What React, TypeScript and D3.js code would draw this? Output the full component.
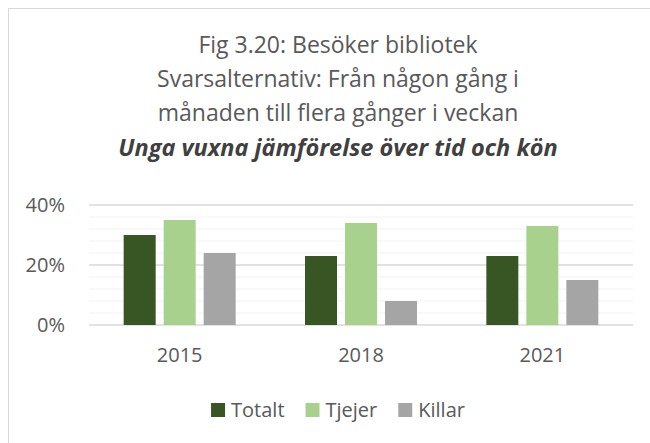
import React from "react";
import * as d3 from "d3";

const categories = ["2015", "2018", "2021"];
const seriesNames = ["Totalt", "Tjejer", "Killar"];
const totalt = [30, 23, 23];
const tjejer = [35, 34, 33];
const killar = [24, 8, 15];
const yTicks = [0, 20, 40];
const minorTicks = [4, 8, 12, 16, 24, 28, 32, 36];
const titleLines = [
  "Fig 3.20: Besöker bibliotek",
  "Svarsalternativ: Från någon gång i",
  "månaden till flera gånger i veckan",
];
const subtitle = "Unga vuxna jämförelse över tid och kön";
const colors = ["#375623", "#A9D18E", "#A5A5A5"];

const W = 650;
const H = 443;
const FONT = "'Open Sans', sans-serif";

function measure(text: string, font: string): number {
  const c = document.createElement("canvas");
  const ctx = c.getContext("2d");
  if (!ctx) return text.length * 10;
  ctx.font = font;
  return ctx.measureText(text).width;
}

export default function App() {
  const values = [totalt, tjejer, killar];
  const plotLeft = 89;
  const plotRight = 633;
  const y = d3.scaleLinear().domain([0, 40]).range([325, 205]);
  const x0 = d3.scaleBand<string>().domain(categories).range([plotLeft, plotRight]).padding(0);
  const x1 = d3
    .scaleBand<string>()
    .domain(seriesNames)
    .range([-56, 56])
    .paddingInner(0.2)
    .paddingOuter(0);

  const cx = 338;
  const sq = 14;
  const gapText = 6;
  const gapItem = 21;
  const widths = seriesNames.map((s) => measure(s, `20px 'Open Sans'`));
  const total =
    widths.reduce((a, w) => a + sq + gapText + w, 0) + gapItem * (seriesNames.length - 1);
  let lx = cx - total / 2;
  const legendItems = seriesNames.map((s, i) => {
    const item = { name: s, x: lx, color: colors[i] };
    lx += sq + gapText + widths[i] + gapItem;
    return item;
  });

  return (
    <svg
      width={W}
      height={H}
      style={{ position: "absolute", left: 0, top: 0, background: "#fff" }}
      fontFamily={FONT}
    >
      <rect x={0} y={0} width={W} height={H} fill="#fff" />
      <rect x={8.5} y={8.5} width={W + 20} height={H + 20} fill="#fff" stroke="#D9D9D9" strokeWidth={1} />
      {titleLines.map((t, i) => (
        <text key={i} x={cx} y={53 + i * 34} textAnchor="middle" fontSize={23} fill="#595959">
          {t}
        </text>
      ))}
      <text
        x={cx}
        y={156}
        textAnchor="middle"
        fontSize={23.5}
        fontWeight="bold"
        fontStyle="italic"
        fill="#404040"
      >
        {subtitle}
      </text>
      {minorTicks.map((t) => (
        <line key={"m" + t} x1={plotLeft} x2={plotRight} y1={y(t)} y2={y(t)} stroke="#F2F2F2" strokeWidth={1} />
      ))}
      {yTicks.map((t) => (
        <line key={"g" + t} x1={plotLeft} x2={plotRight} y1={y(t)} y2={y(t)} stroke="#D9D9D9" strokeWidth={1.3} />
      ))}
      {yTicks.map((t) => (
        <text key={"l" + t} x={65} y={y(t) + 7} textAnchor="end" fontSize={20} fill="#595959">
          {t}%
        </text>
      ))}
      {categories.map((c, ci) => (
        <g key={c} transform={`translate(${(x0(c) ?? 0) + x0.bandwidth() / 2},0)`}>
          {seriesNames.map((s, si) => (
            <rect
              key={s}
              x={x1(s) ?? 0}
              y={y(values[si][ci])}
              width={x1.bandwidth()}
              height={y(0) - y(values[si][ci])}
              fill={colors[si]}
            />
          ))}
          <text x={0} y={362} textAnchor="middle" fontSize={20} fill="#595959">
            {c}
          </text>
        </g>
      ))}
      {legendItems.map((it) => (
        <g key={it.name}>
          <rect x={it.x} y={403} width={sq} height={sq} fill={it.color} />
          <text x={it.x + sq + gapText} y={416.5} fontSize={20} fill="#595959">
            {it.name}
          </text>
        </g>
      ))}
    </svg>
  );
}
